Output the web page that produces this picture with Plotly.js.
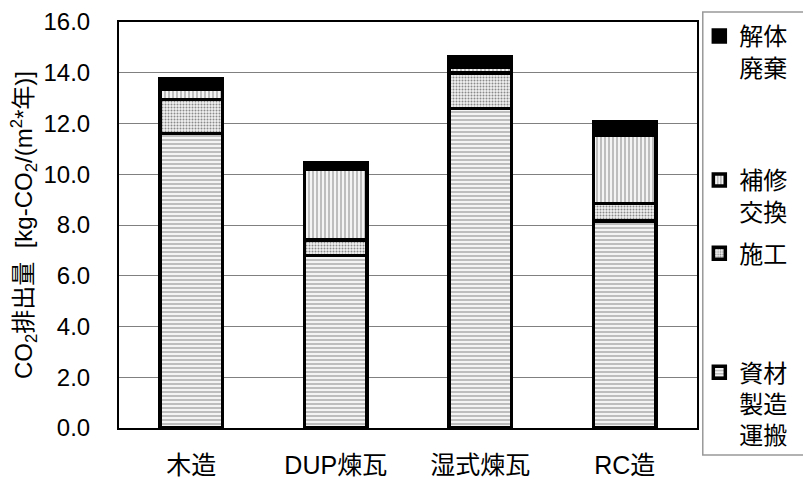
<!DOCTYPE html>
<html><head><meta charset="utf-8">
<script src="https://cdn.plot.ly/plotly-3.0.1.min.js"></script>
<style>body{margin:0;background:#fff}#chart{width:803px;height:480px}</style>
</head><body><div id="chart"></div>
<script>
var categories = ['木造', 'DUP煉瓦', '湿式煉瓦', 'RC造'];
var seriesNames = ['資材<br>製造<br>運搬', '施工', '補修<br>交換', '解体<br>廃棄'];
var material = [11.6, 6.8, 12.6, 8.15];
var construction = [1.35, 0.6, 1.4, 0.7];
var repair = [0.4, 2.8, 0.2, 2.7];
var demolition = [0.4, 0.25, 0.45, 0.5];
var yTicks = [0, 2, 4, 6, 8, 10, 12, 14, 16];

var FONT = 'Liberation Sans, Arial, Noto Sans CJK JP, sans-serif';
var line = {color: '#000', width: 3.5};
var traces = [
  {name: seriesNames[0], y: material, legend: 'legend4',
   marker: {line: line, pattern: {shape: '-', bgcolor: '#f4f4f4', fgcolor: '#b8b8b8', size: 4, solidity: 0.45}}},
  {name: seriesNames[1], y: construction, legend: 'legend3',
   marker: {line: line, pattern: {shape: '.', bgcolor: '#f2f2f2', fgcolor: '#8a8a8a', size: 3, solidity: 0.35}}},
  {name: seriesNames[2], y: repair, legend: 'legend2',
   marker: {line: line, pattern: {shape: '|', bgcolor: '#f4f4f4', fgcolor: '#b8b8b8', size: 4, solidity: 0.45}}},
  {name: seriesNames[3], y: demolition, legend: 'legend',
   marker: {line: line, color: '#000'}}
].map(function (t) {
  return Object.assign({type: 'bar', x: categories, hoverinfo: 'skip'}, t);
});

function leg(y) {
  return {x: 1.004, xanchor: 'left', y: y, yanchor: 'top', bgcolor: 'rgba(0,0,0,0)',
          borderwidth: 0, font: {family: FONT, size: 24, color: '#000'}, itemclick: false,
          itemwidth: 30, valign: 'top'};
}

var layout = {
  width: 803, height: 480,
  margin: {l: 119, r: 106, t: 22, b: 52, autoexpand: false},
  paper_bgcolor: '#fff', plot_bgcolor: '#fff',
  barmode: 'stack', bargap: 0.57,
  font: {family: FONT, color: '#000'},
  xaxis: {showline: true, linecolor: '#000', linewidth: 2, mirror: true, ticks: '',
          tickfont: {size: 25}, ticklabelstandoff: 14, automargin: false},
  yaxis: {range: [0, 16], tickvals: yTicks, tickformat: '.1f', showline: true, linecolor: '#000',
          linewidth: 2, mirror: true, ticks: '', showgrid: true, gridcolor: '#808080', gridwidth: 1,
          zeroline: false, tickfont: {size: 24}, ticklabelstandoff: 22, automargin: false,
          title: {text: 'CO<sub>2</sub>排出量\u00a0\u00a0[kg-CO<sub>2</sub>/(m<sup>2</sup>*年)]', font: {size: 24}, standoff: 4}},
  showlegend: true,
  legend: leg(1.0197),
  legend2: leg(0.665),
  legend3: leg(0.485),
  legend4: leg(0.192),
  shapes: [{type: 'rect', xref: 'paper', yref: 'paper', x0: 1.010, x1: 1.19, y0: -0.0665, y1: 1.0246,
            line: {color: '#999', width: 1.5}}]
};
Plotly.newPlot('chart', traces, layout, {displayModeBar: false, staticPlot: true});
</script></body></html>
